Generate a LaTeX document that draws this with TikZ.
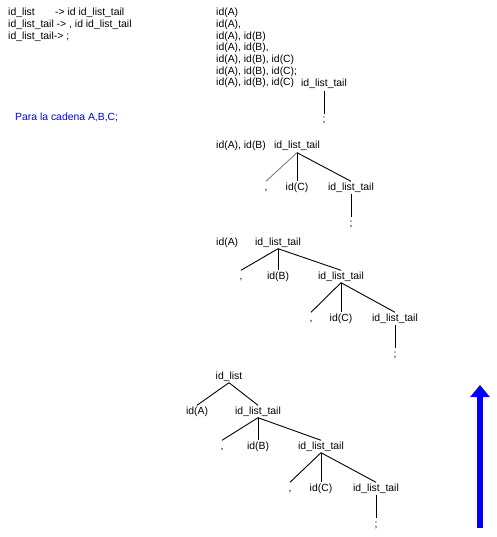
\documentclass[tikz,border=0pt]{standalone}
\usepackage{fontspec}
\setmainfont{Liberation Sans}
\usetikzlibrary{arrows.meta}
\tikzset{%
	txt/.style={
		inner sep=0pt,
		anchor=base west,
		font=\fontsize{10.4}{11.7}\selectfont
	},
	sym/.style={
		inner sep=1pt,
		text height=7.5pt,
		text depth=2.5pt,
		anchor=base,
		font=\fontsize{10.4}{11.7}\selectfont
	},
	branch/.style={
		line width=0.9pt
	},
}
\begin{document}
\begin{tikzpicture}[x=1pt,y=-1pt]
	\useasboundingbox (0,0) rectangle (496,537);

	% grammar and input
	\node[txt, anchor=north west, align=left] (rules) at (8,8) {\makebox[47pt][l]{id\_list}-> id id\_list\_tail\\id\_list\_tail -> , id id\_list\_tail\\id\_list\_tail-> ;};
	\node[txt, text=blue] (cadena) at (15,121) {Para la cadena A,B,C;};

	% steps
	\node[txt, anchor=north west, align=left] (steps) at (216,8) {id(A)\\id(A),\\id(A), id(B)\\id(A), id(B),\\id(A), id(B), id(C)\\id(A), id(B), id(C);\\id(A), id(B), id(C)};

	% tree 1
	\node[sym] (t1) at (324,87) {id\_list\_tail};
	\node[sym] (t1e) at (324,123) {;};
	\draw[branch] (t1.south) -- (t1e.north);

	% tree 2
	\node[txt] (p2) at (216,149) {id(A), id(B)};
	\node[sym] (t2) at (297,149) {id\_list\_tail};
	\node[sym] (t2a) at (266,190) {,};
	\node[sym] (t2b) at (297,190) {id(C)};
	\node[sym] (t2c) at (351,190) {id\_list\_tail};
	\node[sym] (t2e) at (351,226) {;};
	\draw[branch, gray] (t2.south) -- (t2a.north);
	\draw[branch] (t2.south) -- (t2b.north);
	\draw[branch] (t2.south) -- (t2c.north);
	\draw[branch] (t2c.south) -- (t2e.north);

	% tree 3
	\node[txt] (p3) at (216,245) {id(A)};
	\node[sym] (t3) at (278,245) {id\_list\_tail};
	\node[sym] (t3a) at (241,279) {,};
	\node[sym] (t3b) at (278,279) {id(B)};
	\node[sym] (t3c) at (341,279) {id\_list\_tail};
	\node[sym] (t3d) at (311,321) {,};
	\node[sym] (t3f) at (341,321) {id(C)};
	\node[sym] (t3g) at (395,321) {id\_list\_tail};
	\node[sym] (t3e) at (395,357) {;};
	\draw[branch] (t3.south) -- (t3a.north);
	\draw[branch] (t3.south) -- (t3b.north);
	\draw[branch] (t3.south) -- (t3c.north);
	\draw[branch] (t3c.south) -- (t3d.north);
	\draw[branch] (t3c.south) -- (t3f.north);
	\draw[branch] (t3c.south) -- (t3g.north);
	\draw[branch] (t3g.south) -- (t3e.north);

	% tree 4
	\node[sym] (t4) at (229,379) {id\_list};
	\node[sym] (t4a) at (197,414) {id(A)};
	\node[sym] (t4b) at (258,414) {id\_list\_tail};
	\node[sym] (t4c) at (222,449) {,};
	\node[sym] (t4d) at (258,449) {id(B)};
	\node[sym] (t4f) at (321,449) {id\_list\_tail};
	\node[sym] (t4g) at (290,491) {,};
	\node[sym] (t4h) at (321,491) {id(C)};
	\node[sym] (t4i) at (376,491) {id\_list\_tail};
	\node[sym] (t4e) at (376,527) {;};
	\draw[branch] (t4.south) -- (t4a.north);
	\draw[branch] (t4.south) -- (t4b.north);
	\draw[branch] (t4b.south) -- (t4c.north);
	\draw[branch] (t4b.south) -- (t4d.north);
	\draw[branch] (t4b.south) -- (t4f.north);
	\draw[branch] (t4f.south) -- (t4g.north);
	\draw[branch] (t4f.south) -- (t4h.north);
	\draw[branch] (t4f.south) -- (t4i.north);
	\draw[branch] (t4i.south) -- (t4e.north);

	% direction
	\coordinate (up0) at (480,528);
	\coordinate (up1) at (480,385);
	\draw[-{Triangle[width=19pt,length=12pt]}, line width=6pt, blue] (up0) -- (up1);

\end{tikzpicture}
\end{document}
